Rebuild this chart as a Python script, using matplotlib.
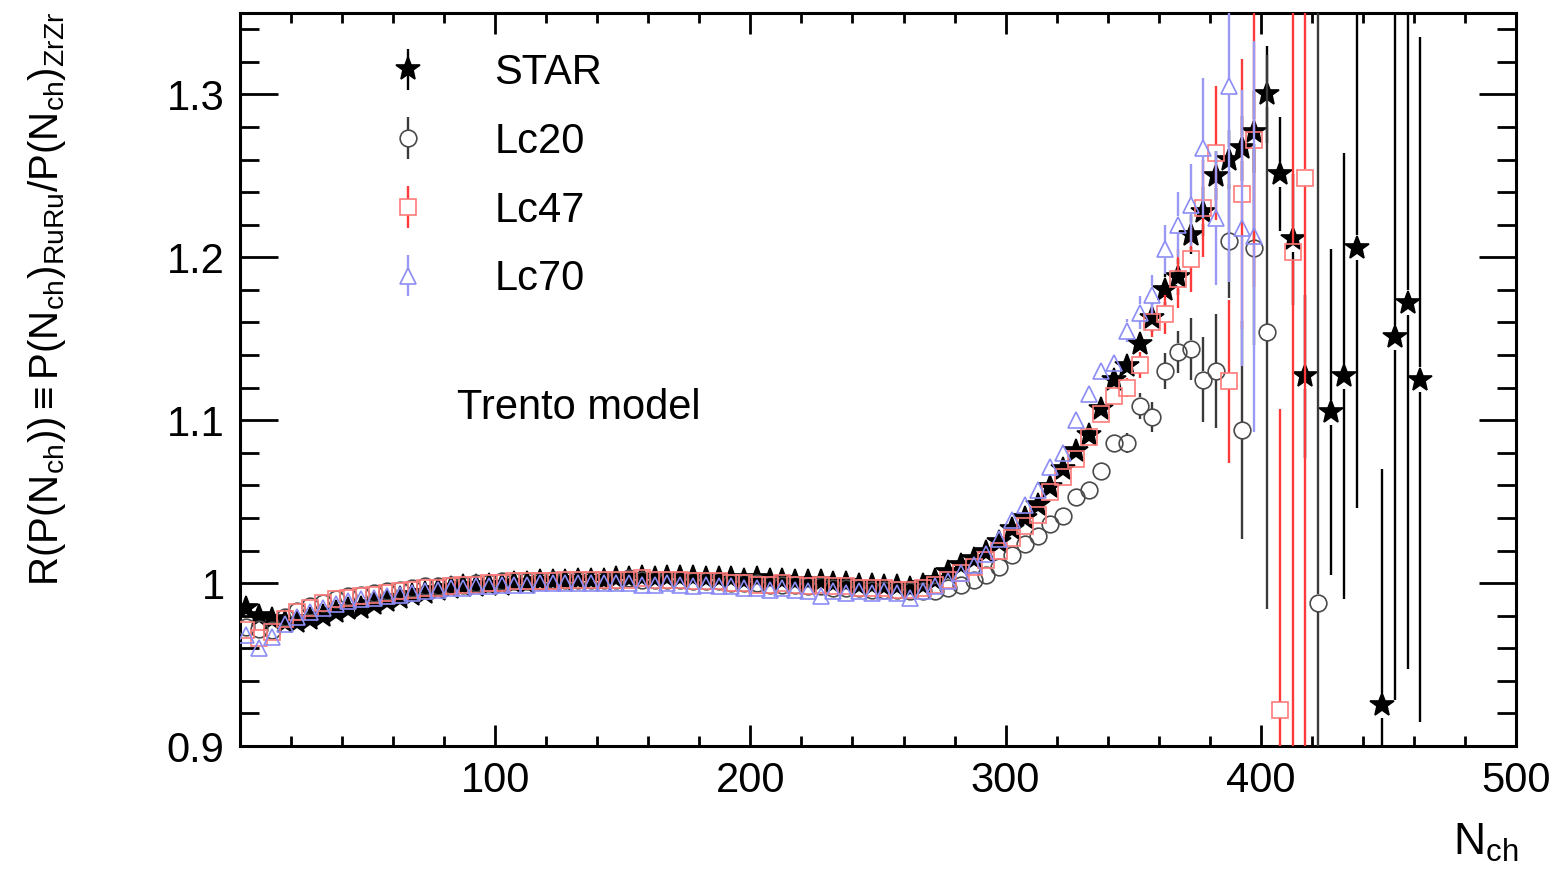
import numpy as np
import matplotlib
matplotlib.use('Agg')
import matplotlib.pyplot as plt
from matplotlib.ticker import FixedLocator, MultipleLocator

plt.rcParams['font.family'] = ['Liberation Sans', 'DejaVu Sans']
plt.rcParams['mathtext.fontset'] = 'custom'
plt.rcParams['mathtext.rm'] = 'Liberation Sans'
plt.rcParams['mathtext.it'] = 'Liberation Sans:italic'
plt.rcParams['mathtext.fallback'] = 'stixsans'

nan = np.nan

# bin centres in N_ch (5-wide bins)
nch = np.arange(2.5, 465, 5)

star = [0.985, 0.980, 0.978, 0.976, 0.976, 0.978, 0.980, 0.982, 0.984, 0.985,
        0.987, 0.989, 0.991, 0.993, 0.994, 0.996, 0.997, 0.998, 0.998, 0.999,
        0.999, 1.000, 1.000, 1.001, 1.001, 1.001, 1.002, 1.002, 1.002, 1.003,
        1.003, 1.004, 1.003, 1.004, 1.004, 1.004, 1.003, 1.003, 1.003, 1.002,
        1.003, 1.002, 1.002, 1.001, 1.001, 1.001, 1.000, 1.000, 0.999, 0.999,
        0.998, 0.998, 0.997, 0.999, 1.002, 1.007, 1.011, 1.015, 1.019, 1.025,
        1.033, 1.040, 1.048, 1.059, 1.070, 1.081, 1.091, 1.107, 1.125, 1.133,
        1.147, 1.163, 1.180, 1.188, 1.214, 1.228, 1.250, 1.260, 1.267, 1.277,
        1.300, 1.251, 1.211, 1.127, nan, 1.105, 1.127, 1.206, nan, 0.925,
        1.151, 1.172, 1.125]
star_err = [0.003, 0.002, 0.002, 0.002, 0.002, 0.002, 0.002, 0.002, 0.002, 0.002,
            0.001, 0.001, 0.001, 0.001, 0.001, 0.001, 0.001, 0.001, 0.001, 0.001,
            0.001, 0.001, 0.001, 0.001, 0.001, 0.001, 0.001, 0.001, 0.001, 0.001,
            0.001, 0.001, 0.001, 0.001, 0.001, 0.001, 0.001, 0.001, 0.001, 0.001,
            0.001, 0.001, 0.001, 0.001, 0.001, 0.001, 0.001, 0.001, 0.001, 0.001,
            0.001, 0.001, 0.001, 0.001, 0.002, 0.002, 0.002, 0.002, 0.002, 0.002,
            0.003, 0.003, 0.004, 0.004, 0.004, 0.005, 0.005, 0.006, 0.006, 0.007,
            0.008, 0.009, 0.010, 0.011, 0.012, 0.015, 0.015, 0.018, 0.020, 0.025,
            0.030, 0.035, 0.040, 0.050, nan, 0.100, 0.137, 0.160, nan, 0.145,
            0.223, 0.225, 0.210]

lc20 = [0.973, 0.972, 0.971, 0.979, 0.983, 0.986, 0.988, 0.990, 0.992, 0.993,
        0.994, 0.995, 0.996, 0.997, 0.998, 0.998, 0.999, 0.999, 1.000, 1.000,
        1.001, 1.001, 1.001, 1.001, 1.002, 1.002, 1.002, 1.002, 1.002, 1.002,
        1.003, 1.002, 1.002, 1.002, 1.002, 1.001, 1.001, 1.001, 1.000, 1.000,
        1.000, 0.999, 0.999, 0.999, 0.998, 0.998, 0.997, 0.997, 0.997, 0.996,
        0.996, 0.996, 0.995, 0.995, 0.995, 0.997, 0.999, 1.002, 1.005, 1.010,
        1.017, 1.024, 1.029, 1.036, 1.041, 1.053, 1.057, 1.069, 1.086, 1.086,
        1.109, 1.102, 1.130, 1.142, 1.144, 1.125, 1.130, 1.210, 1.094, 1.206,
        1.154, nan, nan, nan, 0.988, nan, nan, nan, nan, nan,
        nan, nan, nan]
lc20_err = [0.002, 0.002, 0.002, 0.002, 0.002, 0.001, 0.001, 0.001, 0.001, 0.001,
            0.001, 0.001, 0.001, 0.001, 0.001, 0.001, 0.001, 0.001, 0.001, 0.001,
            0.001, 0.001, 0.001, 0.001, 0.001, 0.001, 0.001, 0.001, 0.001, 0.001,
            0.001, 0.001, 0.001, 0.001, 0.001, 0.001, 0.001, 0.001, 0.001, 0.001,
            0.001, 0.001, 0.001, 0.001, 0.001, 0.001, 0.001, 0.001, 0.001, 0.001,
            0.001, 0.001, 0.001, 0.001, 0.001, 0.001, 0.001, 0.002, 0.002, 0.002,
            0.002, 0.002, 0.003, 0.003, 0.003, 0.004, 0.004, 0.005, 0.005, 0.006,
            0.008, 0.009, 0.011, 0.013, 0.019, 0.026, 0.035, 0.035, 0.067, 0.060,
            0.170, nan, nan, nan, 0.500, nan, nan, nan, nan, nan,
            nan, nan, nan]

lc47 = [0.971, 0.966, 0.970, 0.978, 0.982, 0.985, 0.988, 0.990, 0.991, 0.992,
        0.993, 0.994, 0.995, 0.996, 0.997, 0.997, 0.998, 0.999, 0.999, 1.000,
        1.000, 1.001, 1.001, 1.001, 1.001, 1.002, 1.002, 1.002, 1.002, 1.002,
        1.002, 1.003, 1.002, 1.002, 1.002, 1.001, 1.001, 1.001, 1.000, 1.000,
        0.999, 0.999, 1.000, 0.999, 0.998, 0.999, 0.998, 0.998, 0.997, 0.997,
        0.997, 0.996, 0.996, 0.997, 0.999, 1.002, 1.006, 1.010, 1.014, 1.020,
        1.028, 1.035, 1.042, 1.056, 1.065, 1.076, 1.090, 1.104, 1.115, 1.120,
        1.134, 1.160, 1.165, 1.187, 1.199, 1.230, 1.264, 1.124, 1.239, 1.272,
        nan, 0.922, 1.203, 1.249, nan, nan, nan, nan, nan, nan,
        nan, nan, nan]
lc47_err = [0.002, 0.002, 0.002, 0.002, 0.002, 0.001, 0.001, 0.001, 0.001, 0.001,
            0.001, 0.001, 0.001, 0.001, 0.001, 0.001, 0.001, 0.001, 0.001, 0.001,
            0.001, 0.001, 0.001, 0.001, 0.001, 0.001, 0.001, 0.001, 0.001, 0.001,
            0.001, 0.001, 0.001, 0.001, 0.001, 0.001, 0.001, 0.001, 0.001, 0.001,
            0.001, 0.001, 0.001, 0.001, 0.001, 0.001, 0.001, 0.001, 0.001, 0.001,
            0.001, 0.001, 0.001, 0.001, 0.001, 0.001, 0.001, 0.002, 0.002, 0.002,
            0.002, 0.002, 0.003, 0.003, 0.003, 0.004, 0.004, 0.005, 0.005, 0.006,
            0.008, 0.009, 0.012, 0.018, 0.020, 0.030, 0.041, 0.050, 0.083, 0.090,
            nan, 0.185, 0.500, 0.500, nan, nan, nan, nan, nan, nan,
            nan, nan, nan]

lc70 = [0.968, 0.960, 0.967, 0.975, 0.979, 0.982, 0.985, 0.987, 0.989, 0.990,
        0.991, 0.992, 0.993, 0.994, 0.995, 0.996, 0.997, 0.997, 0.998, 0.998,
        0.999, 0.999, 0.999, 1.000, 1.000, 1.000, 1.000, 1.000, 1.000, 1.000,
        1.000, 0.999, 0.999, 1.000, 0.999, 0.998, 0.999, 0.998, 0.998, 0.997,
        0.997, 0.996, 0.997, 0.996, 0.995, 0.992, 0.995, 0.994, 0.995, 0.994,
        0.995, 0.994, 0.991, 0.995, 0.998, 1.001, 1.006, 1.011, 1.018, 1.027,
        1.039, 1.048, 1.057, 1.071, 1.080, 1.100, 1.116, 1.130, 1.135, 1.155,
        1.166, 1.177, 1.205, 1.220, 1.232, 1.267, 1.224, 1.305, 1.218, 1.213,
        nan, nan, nan, nan, nan, nan, nan, nan, nan, nan,
        nan, nan, nan]
lc70_err = [0.002, 0.003, 0.002, 0.002, 0.002, 0.001, 0.001, 0.001, 0.001, 0.001,
            0.001, 0.001, 0.001, 0.001, 0.001, 0.001, 0.001, 0.001, 0.001, 0.001,
            0.001, 0.001, 0.001, 0.001, 0.001, 0.001, 0.001, 0.001, 0.001, 0.001,
            0.001, 0.001, 0.001, 0.001, 0.001, 0.001, 0.001, 0.001, 0.001, 0.001,
            0.001, 0.001, 0.001, 0.001, 0.001, 0.001, 0.001, 0.001, 0.001, 0.001,
            0.001, 0.001, 0.001, 0.001, 0.001, 0.001, 0.001, 0.002, 0.002, 0.002,
            0.002, 0.002, 0.003, 0.003, 0.003, 0.004, 0.004, 0.005, 0.005, 0.007,
            0.010, 0.012, 0.015, 0.020, 0.025, 0.043, 0.041, 0.120, 0.085, 0.120,
            nan, nan, nan, nan, nan, nan, nan, nan, nan, nan,
            nan, nan, nan]

xticks = [100, 200, 300, 400, 500]
xticklabels = ['100', '200', '300', '400', '500']
yticks = [0.9, 1.0, 1.1, 1.2, 1.3]
yticklabels = ['0.9', '1', '1.1', '1.2', '1.3']

FS = 30
DPI = 100
YMIN, YMAX = 0.9, 1.35

fig = plt.figure(figsize=(15.62, 8.72), dpi=DPI)
ax = fig.add_axes([240/1562, 1-746/872, 1276/1562, 733/872])
ax.set_xlim(0, 500)
ax.set_ylim(YMIN, YMAX)

# data units per point on the y axis (for ROOT-style bars that stop at the marker)
ax_h_pt = ax.get_position().height * fig.get_figheight() * 72
per_pt = (YMAX - YMIN) / ax_h_pt


def draw(y, err, marker, ms, mec, mfc, ecolor, z):
    y = np.asarray(y, float)
    err = np.asarray(err, float)
    gap = 0.5 * ms * per_pt
    ok = err > gap
    ax.vlines(nch[ok], y[ok] + gap, y[ok] + err[ok], colors=ecolor,
              linewidth=1.7, zorder=z)
    ax.vlines(nch[ok], y[ok] - err[ok], y[ok] - gap, colors=ecolor,
              linewidth=1.7, zorder=z)
    ax.plot(nch, y, linestyle='none', marker=marker, ms=ms, mec=mec, mfc=mfc,
            mew=1.2, zorder=z + 0.5)


# STAR first, models drawn on top of it
draw(star, star_err, '*', 18, 'black', 'black', 'black', 3)
draw(lc20, lc20_err, 'o', 12, '#4a4a4a', 'none', '#3a3a3a', 4)
draw(lc47, lc47_err, 's', 12, '#ff7a7a', 'none', '#ff3a3a', 5)
draw(lc70, lc70_err, '^', 12, '#8c8cf5', 'none', '#9a9af5', 6)

# legend proxies
styles = [('STAR', '*', 18, 'black', 'black', 'black'),
          ('Lc20', 'o', 12, '#4a4a4a', 'white', '#3a3a3a'),
          ('Lc47', 's', 12, '#ff7a7a', 'white', '#ff3a3a'),
          ('Lc70', '^', 12, '#8c8cf5', 'white', '#9a9af5')]
handles = []
for lab, mk, ms, mec, mfc, ec in styles:
    h = ax.errorbar([nan], [nan], yerr=[0.1], fmt=mk, ms=ms, mec=mec, mfc=mfc,
                    mew=1.2, ecolor=ec, elinewidth=1.7, capsize=0, label=lab)
    handles.append(h)

ax.xaxis.set_major_locator(FixedLocator(xticks))
ax.set_xticklabels(xticklabels)
ax.xaxis.set_minor_locator(MultipleLocator(20))
ax.yaxis.set_major_locator(FixedLocator(yticks))
ax.set_yticklabels(yticklabels)
ax.yaxis.set_minor_locator(MultipleLocator(0.02))

ax.tick_params(which='both', direction='in', top=True, right=True,
               width=2.0, labelsize=FS)
ax.xaxis.set_tick_params(which='major', length=15, pad=11)
ax.xaxis.set_tick_params(which='minor', length=7.5)
ax.yaxis.set_tick_params(which='major', length=27, pad=11)
ax.yaxis.set_tick_params(which='minor', length=14)
for sp in ax.spines.values():
    sp.set_linewidth(2.2)

leg = ax.legend(handles=handles, loc='upper left',
                bbox_to_anchor=(388/1562, 1-53/872), bbox_transform=fig.transFigure,
                frameon=False, fontsize=FS, numpoints=1, handlelength=0.95,
                handletextpad=1.6, labelspacing=0.69, borderpad=0,
                borderaxespad=0)

ax.text(0.170, 0.461, 'Trento model', transform=ax.transAxes, fontsize=FS,
        ha='left', va='center')

fig.text(47/1562, 1-12/872,
         r'R(P(N$_{\rm ch}$))$\equiv$P(N$_{\rm ch}$)$_{\rm RuRu}$/P(N$_{\rm ch}$)$_{\rm ZrZr}$',
         rotation=90, ha='center', va='top', fontsize=29)
fig.text(1518/1562, 1-864/872, r'N$_{\rm ch}$', ha='right', va='bottom',
         fontsize=32)

fig.savefig('out.png', dpi=DPI)
